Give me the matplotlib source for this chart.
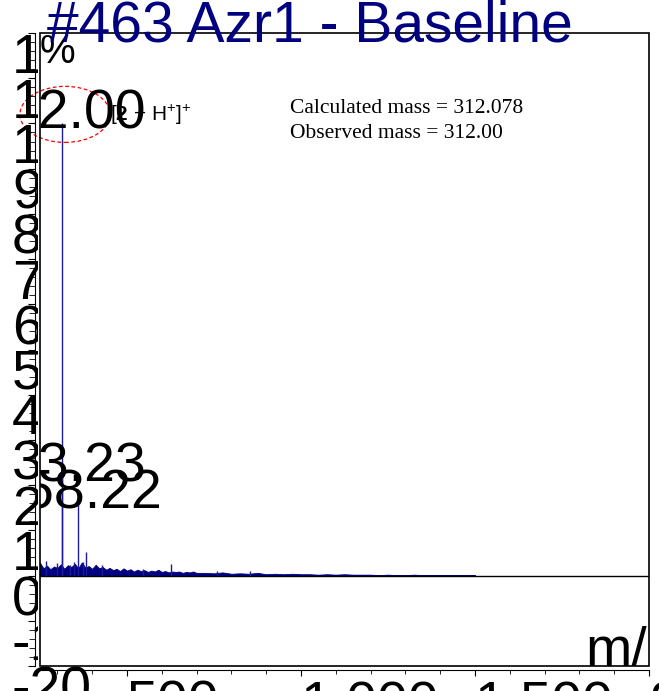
import matplotlib
matplotlib.use("Agg")
import matplotlib.pyplot as plt
from matplotlib.patches import Ellipse, Rectangle
from matplotlib.ticker import MultipleLocator, FuncFormatter
from matplotlib.transforms import Bbox

plt.rcParams["font.family"] = ["Liberation Sans", "DejaVu Sans"]
plt.rcParams["mathtext.fontset"] = "custom"
plt.rcParams["mathtext.rm"] = "Liberation Sans"
plt.rcParams["mathtext.bf"] = "Liberation Sans:bold"

NAVY = "#000080"

# baseline noise of the spectrum (m/z, relative intensity in %)
noise_mz = list(range(250, 701, 10)) + list(range(725, 1501, 25))
noise_int = [2.8, 1.6, 2.2, 1.4, 2.0, 1.7, 2.5, 1.5, 2.3, 1.9,
             2.6, 1.6, 2.9, 1.8, 2.1, 1.5, 2.4, 1.6, 1.9, 1.3,
             1.7, 1.2, 1.5, 1.0, 1.6, 1.1, 1.4, 0.9, 1.3, 1.0,
             1.2, 0.8, 1.1, 0.9, 1.3, 0.8, 1.0, 0.7, 0.9, 0.8,
             0.9, 0.6, 0.8, 0.7, 0.9, 0.6,
             0.6, 0.5, 0.7, 0.4, 0.5, 0.4, 0.6, 0.3, 0.4, 0.3,
             0.4, 0.3, 0.3, 0.2, 0.3, 0.2, 0.3, 0.2, 0.2, 0.2,
             0.1, 0.2, 0.1, 0.1, 0.2, 0.1, 0.1, 0.1, 0.1, 0.1, 0.1, 0.1]

# individual peaks standing out of the noise
peak_mz = [268, 300, 312.00, 313.23, 336, 347, 358.22, 373, 382, 428, 545, 626, 760, 853]
peak_int = [3.2, 2.8, 100, 22, 2.4, 3.0, 16, 3.0, 5.3, 2.3, 1.5, 2.6, 1.0, 1.0]

# peaks carrying a mass label
label_mz = [312.00, 313.23, 358.22]
label_int = [100, 22, 16]
label_txt = ["312.00", "313.23", "358.22"]

calc_mass = 312.078
obs_mass = 312.00

xlim = (250, 2000)
ylim = (-20, 120)

fig = plt.figure(figsize=(6.59, 6.91), dpi=100)
ax = fig.add_axes([40 / 659, 25 / 691, 609 / 659, 633 / 691])
ax.set_xlim(*xlim)
ax.set_ylim(*ylim)

# spectrum
ax.fill_between(noise_mz, 0, noise_int, color=NAVY, lw=0.6)
ax.vlines(peak_mz, 0, peak_int, color="#1c1c96", lw=1.0)
ax.axhline(0, color="black", lw=1.0)

for mz, inten, txt in zip(label_mz, label_int, label_txt):
    ax.annotate(txt, (mz, inten), xytext=(0, -4), textcoords="offset points",
                ha="center", va="baseline", fontsize=40, clip_on=True)

ax.text(451, 100.5, r"[$\mathbf{2}$ + H$^{+}$]$^{+}$", fontsize=15, ha="left", va="baseline")
ax.add_patch(Ellipse((label_mz[0] + 10, label_int[0] + 2), 259, 12.4,
                     fill=False, ec="red", ls=(0, (3, 2)), lw=0.9, clip_on=False))

ax.text(0.41, 0.874, f"Calculated mass = {calc_mass:.3f}", transform=ax.transAxes,
        family="Liberation Serif", fontsize=15.5)
ax.text(0.41, 0.834, f"Observed mass = {obs_mass:.2f}", transform=ax.transAxes,
        family="Liberation Serif", fontsize=15.5)

ax.text(0.0, 1.0, "%", transform=ax.transAxes, fontsize=29, ha="left", va="top", clip_on=True)
ax.text(0.895, 0.0, "m/z", transform=ax.transAxes, fontsize=40, ha="left", va="baseline",
        clip_on=True)

fig.text(310 / 659, (691 - 41) / 691, "#463 Azr1 - Baseline", color=NAVY, fontsize=41,
         ha="center", va="baseline")

# frame plus offset axis lines
for side in ("top", "right"):
    ax.spines[side].set_visible(False)
ax.spines["left"].set_position(("outward", 3.6))
ax.spines["bottom"].set_position(("outward", 3.0))
ax.add_patch(Rectangle((0, 0), 1, 1, transform=ax.transAxes, fill=False, ec="black",
                       lw=1.2, clip_on=False, zorder=5))

ax.yaxis.set_major_locator(MultipleLocator(10))
ax.yaxis.set_minor_locator(MultipleLocator(2))
ax.xaxis.set_major_locator(MultipleLocator(500))
ax.xaxis.set_minor_locator(MultipleLocator(100))
ax.yaxis.set_major_formatter(FuncFormatter(lambda v, p: f"{v:.0f}"))
ax.xaxis.set_major_formatter(FuncFormatter(lambda v, p: f"{v:,.0f}"))
ax.tick_params(axis="y", which="major", length=5, pad=11.6, labelsize=40)
ax.tick_params(axis="y", which="minor", length=4)
ax.tick_params(axis="x", which="major", length=4, pad=3, labelsize=40)
ax.tick_params(axis="x", which="minor", length=3)

fig.canvas.draw()
label_clip = Bbox.from_extents(0, 0, 38, fig.bbox.height)
for tick in ax.yaxis.get_major_ticks():
    tick.label1.set_horizontalalignment("left")
    tick.label1.set_verticalalignment("top")
    if tick.get_loc() > ylim[0]:
        tick.label1.set_clip_box(label_clip)
for tick in ax.xaxis.get_major_ticks():
    tick.label1.set_horizontalalignment("left")

fig.savefig("out.png", dpi=100)
